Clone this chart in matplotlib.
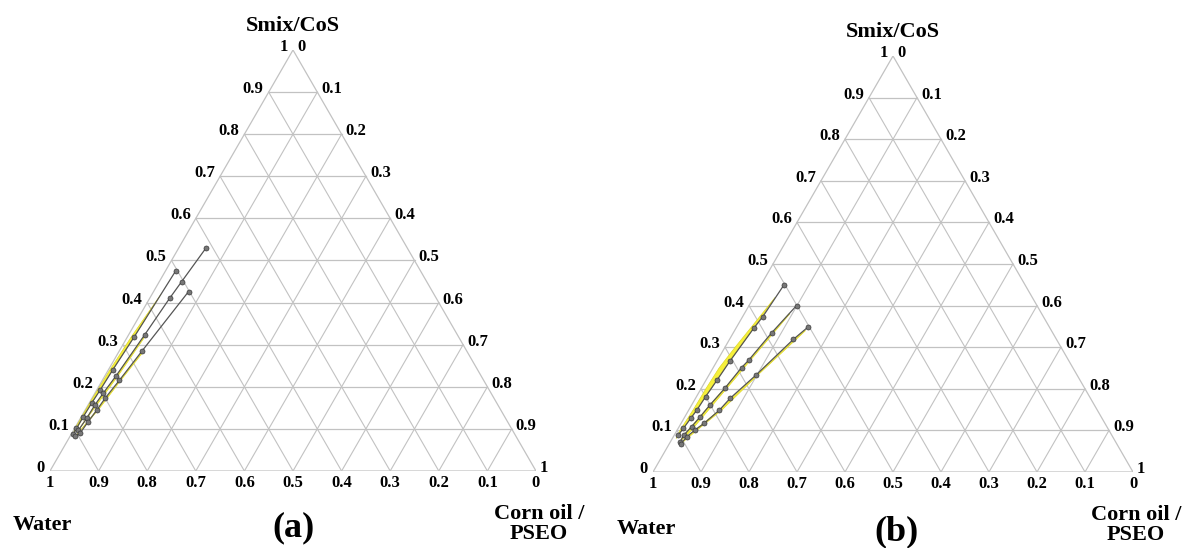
import numpy as np
import matplotlib
matplotlib.use("Agg")
import matplotlib.pyplot as plt

plt.rcParams['font.family'] = ['Liberation Serif', 'DejaVu Serif']
plt.rcParams['font.weight'] = 'bold'

# ternary data: fractions of Smix/CoS and of oil (water = rest)
# panel (a)
a_line1_smix = [0.476, 0.319, 0.240, 0.192, 0.161, 0.129, 0.101, 0.088]
a_line1_oil = [0.021, 0.014, 0.009, 0.007, 0.005, 0.004, 0.004, 0.004]
a_line2_smix = [0.529, 0.450, 0.410, 0.323, 0.226, 0.185, 0.157, 0.125, 0.097]
a_line2_oil = [0.056, 0.046, 0.041, 0.033, 0.023, 0.017, 0.014, 0.013, 0.010]
a_line3_smix = [0.426, 0.286, 0.215, 0.173, 0.145, 0.117, 0.090, 0.082]
a_line3_oil = [0.072, 0.047, 0.035, 0.027, 0.024, 0.020, 0.017, 0.011]

# microemulsion (yellow) regions, panel (a)
a_yel1_smix = [0.42, 0.319, 0.240, 0.161, 0.088, 0.10, 0.16, 0.24, 0.32]
a_yel1_oil = [0.0185, 0.014, 0.009, 0.005, 0.004, 0.001, 0.001, 0.003, 0.008]
a_yel2_smix = [0.32, 0.226, 0.157, 0.097, 0.157, 0.226, 0.32]
a_yel2_oil = [0.033, 0.023, 0.014, 0.010, 0.018, 0.027, 0.036]
a_yel3_smix = [0.28, 0.215, 0.145, 0.082, 0.145, 0.215, 0.28]
a_yel3_oil = [0.047, 0.035, 0.024, 0.011, 0.027, 0.038, 0.050]

# panel (b)
b_line1_smix = [0.450, 0.373, 0.345, 0.267, 0.221, 0.181, 0.149, 0.129, 0.105, 0.089]
b_line1_oil = [0.048, 0.042, 0.037, 0.027, 0.023, 0.019, 0.017, 0.014, 0.011, 0.008]
b_line2_smix = [0.400, 0.335, 0.269, 0.251, 0.201, 0.161, 0.133, 0.109, 0.089, 0.073]
b_line2_oil = [0.099, 0.080, 0.065, 0.059, 0.049, 0.038, 0.032, 0.026, 0.020, 0.020]
b_line3_smix = [0.349, 0.319, 0.233, 0.177, 0.149, 0.117, 0.101, 0.085, 0.067]
b_line3_oil = [0.149, 0.133, 0.098, 0.072, 0.064, 0.048, 0.037, 0.028, 0.024]

b_yel1_smix = [0.42, 0.345, 0.267, 0.181, 0.105, 0.08, 0.10, 0.15, 0.20, 0.25, 0.30, 0.35]
b_yel1_oil = [0.0445, 0.037, 0.027, 0.019, 0.011, 0.008, 0.006, 0.009, 0.010, 0.0125, 0.021, 0.031]
b_yel2_smix = [0.38, 0.269, 0.161, 0.089, 0.073, 0.10, 0.161, 0.269, 0.38]
b_yel2_oil = [0.093, 0.065, 0.038, 0.020, 0.020, 0.030, 0.044, 0.069, 0.095]
b_yel3_smix = [0.34, 0.233, 0.149, 0.085, 0.067, 0.09, 0.149, 0.233, 0.34]
b_yel3_oil = [0.145, 0.098, 0.064, 0.028, 0.024, 0.036, 0.069, 0.102, 0.148]

ticks = [0, 0.1, 0.2, 0.3, 0.4, 0.5, 0.6, 0.7, 0.8, 0.9, 1]
tick_labels = ['0', '0.1', '0.2', '0.3', '0.4', '0.5', '0.6', '0.7', '0.8', '0.9', '1']

H = np.sqrt(3) / 2
GRID = '#c2c2c2'


def tern(smix, oil):
    s = np.asarray(smix, float)
    o = np.asarray(oil, float)
    return o + s / 2, s * H


def draw_panel(ax, lines, yellows, tag, tag_off, water_off):
    ax.set_xlim(0, 1)
    ax.set_ylim(0, H)
    ax.axis('off')

    # grid
    for t in ticks[1:-1]:
        ax.plot([t / 2, 1 - t / 2], [t * H, t * H], color=GRID, lw=0.9, zorder=1)
        ax.plot([t, t + (1 - t) / 2], [0, (1 - t) * H], color=GRID, lw=0.8, zorder=1)
        ax.plot([1 - t, (1 - t) / 2], [0, (1 - t) * H], color=GRID, lw=0.8, zorder=1)
    ax.plot([0, 1, 0.5, 0], [0, 0, H, 0], color=GRID, lw=0.9, zorder=1)

    for ys, yo in yellows:
        x, y = tern(ys, yo)
        ax.fill(x, y, color='#f6f03a', lw=0.4, ec='#d8d020', zorder=2)

    for ls, lo in lines:
        x, y = tern(ls, lo)
        ax.plot(x, y, color='#555555', lw=0.9, marker='o', ms=3.6,
                mfc='#777777', mec='#3a3a3a', mew=0.5, zorder=3)

    kw = dict(textcoords='offset pixels', fontsize=12, fontweight='bold',
              annotation_clip=False)
    for t, lab in zip(ticks, tick_labels):
        # Smix/CoS on left edge
        ax.annotate(lab, (t / 2, t * H), xytext=(-5, 3), ha='right', va='center', **kw)
        # oil on right edge (0 at apex)
        ax.annotate(lab, (t + (1 - t) / 2, (1 - t) * H), xytext=(4, 3), ha='left', va='center', **kw)
        # water on bottom (1 at left)
        ax.annotate(lab, (1 - t, 0), xytext=(0, -12), ha='center', va='center', **kw)

    big = dict(textcoords='offset pixels', fontweight='bold', annotation_clip=False)
    ax.annotate('Smix/CoS', (0.5, H), xytext=(0, 24), ha='center', va='center', fontsize=16, **big)
    ax.annotate('Water', (0, 0), xytext=water_off, ha='center', va='center', fontsize=16, **big)
    ax.annotate('Corn oil /\nPSEO', (1, 0), xytext=(3, -53), ha='center', va='center',
                fontsize=16, linespacing=0.95, **big)
    ax.annotate(tag, (0.5, 0), xytext=tag_off, ha='center', va='center', fontsize=26, **big)


fig = plt.figure(figsize=(11.86, 5.48), dpi=100)
W, Hp = 1186, 548

ax1 = fig.add_axes([50 / W, (Hp - 471) / Hp, 486 / W, 421 / Hp])
draw_panel(ax1,
           [(a_line1_smix, a_line1_oil), (a_line2_smix, a_line2_oil), (a_line3_smix, a_line3_oil)],
           [(a_yel1_smix, a_yel1_oil), (a_yel2_smix, a_yel2_oil), (a_yel3_smix, a_yel3_oil)],
           '(a)', (0, -57), (-8, -54))

ax2 = fig.add_axes([653 / W, (Hp - 472) / Hp, 480 / W, 416 / Hp])
draw_panel(ax2,
           [(b_line1_smix, b_line1_oil), (b_line2_smix, b_line2_oil), (b_line3_smix, b_line3_oil)],
           [(b_yel1_smix, b_yel1_oil), (b_yel2_smix, b_yel2_oil), (b_yel3_smix, b_yel3_oil)],
           '(b)', (4, -60), (-7, -57))

fig.savefig('out.png', dpi=100)
